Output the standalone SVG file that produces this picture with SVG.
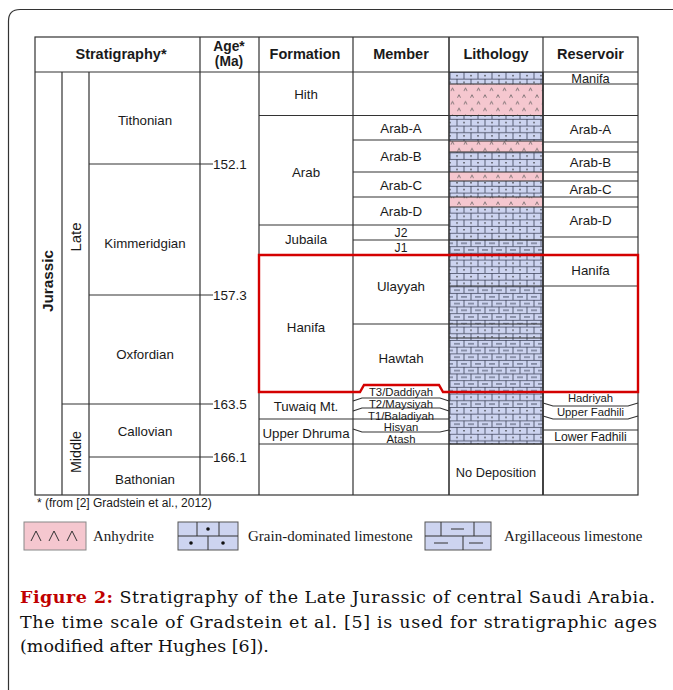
<svg xmlns="http://www.w3.org/2000/svg" width="673" height="690" viewBox="0 0 673 690">
<defs>
<style>
.ln{stroke:#333;stroke-width:1.2;fill:none}
.bl{stroke:#2a2a2a;stroke-width:1;fill:none}
.h{font-family:"Liberation Sans",Arial,sans-serif;font-weight:bold;font-size:14.5px;fill:#1a1a1a;text-anchor:middle}
.t{font-family:"Liberation Sans",Arial,sans-serif;font-size:13.3px;fill:#1a1a1a;text-anchor:middle}
.s{font-family:"Liberation Sans",Arial,sans-serif;font-size:12.2px;fill:#1a1a1a;text-anchor:middle}
.x{font-family:"Liberation Sans",Arial,sans-serif;font-size:11.3px;fill:#1a1a1a;text-anchor:middle}
.a{font-family:"Liberation Sans",Arial,sans-serif;font-size:13.5px;fill:#1a1a1a}
.lg{font-family:"Liberation Serif","Times New Roman",serif;font-size:15px;fill:#1a1a1a}
.cap{font-family:"DejaVu Serif","Liberation Serif",serif;font-size:17.5px;fill:#111}
</style>
<pattern id="pg" patternUnits="userSpaceOnUse" x="449" y="72" width="14" height="13.4">
<rect width="14" height="13.4" fill="#cdd4f0"/>
<path d="M0,0.4H14M0,7.1H14M1,0V6.7M8,6.7V13.4" stroke="#3a3f55" stroke-width="0.8" fill="none"/>
<circle cx="8" cy="3.7" r="0.75" fill="#222"/>
<circle cx="1" cy="10.4" r="0.75" fill="#222"/>
</pattern>
<pattern id="pr" patternUnits="userSpaceOnUse" x="449" y="72" width="14" height="13.4">
<rect width="14" height="13.4" fill="#cdd4f0"/>
<path d="M0,0.4H14M0,7.1H14M1,0V6.7M8,6.7V13.4" stroke="#3a3f55" stroke-width="0.8" fill="none"/>
<path d="M5,3.8H11M0,10.5H4M12,10.5H14" stroke="#3a3f55" stroke-width="0.9" fill="none"/>
</pattern>
<pattern id="pa" patternUnits="userSpaceOnUse" x="449" y="72" width="13" height="13.4">
<rect width="13" height="13.4" fill="#f5c7cf"/>
<path d="M2,5.6L3.5,2.6L5,5.6M8.5,12.3L10,9.3L11.5,12.3" stroke="#555" stroke-width="0.7" fill="none"/>
</pattern>
</defs>
<rect width="673" height="690" fill="#fff"/>
<path d="M8.5,690V21Q8.5,9.5 20,9.5H673" stroke="#333" stroke-width="1.2" fill="none"/>

<g id="lithology">
<rect x="449" y="72" width="94" height="12" fill="url(#pg)"/>
<rect x="449" y="84" width="94" height="31" fill="url(#pa)"/>
<rect x="449" y="115" width="94" height="26" fill="url(#pg)"/>
<rect x="449" y="141" width="94" height="11" fill="url(#pa)"/>
<rect x="449" y="152" width="94" height="20" fill="url(#pg)"/>
<rect x="449" y="172" width="94" height="9" fill="url(#pa)"/>
<rect x="449" y="181" width="94" height="16" fill="url(#pg)"/>
<rect x="449" y="197" width="94" height="10" fill="url(#pa)"/>
<rect x="449" y="207" width="94" height="33" fill="url(#pg)"/>
<rect x="449" y="240" width="94" height="15" fill="url(#pr)"/>
<rect x="449" y="255" width="94" height="31" fill="url(#pg)"/>
<rect x="449" y="286" width="94" height="38" fill="url(#pr)"/>
<rect x="449" y="324" width="94" height="14" fill="url(#pg)"/>
<rect x="449" y="338" width="94" height="54" fill="url(#pr)"/>
<rect x="449" y="392" width="94" height="8" fill="url(#pg)"/>
<rect x="449" y="400" width="94" height="7" fill="url(#pr)"/>
<rect x="449" y="407" width="94" height="13" fill="url(#pg)"/>
<rect x="449" y="420" width="94" height="7" fill="url(#pr)"/>
<rect x="449" y="427" width="94" height="17" fill="url(#pg)"/>
<path class="bl" d="M449,84H543M449,141H543M449,152H543M449,172H543M449,181H543M449,197H543M449,207H543M449,240H543M449,286H543M449,324H543M449,338H543M449,444H543"/>
<text class="s" x="496" y="476.5" style="font-size:12.8px">No Deposition</text>
</g>

<g id="grid">
<rect class="ln" x="35" y="37" width="603" height="458"/>
<path class="ln" d="M35,72H638"/>
<path class="ln" d="M62,72V495M89,72V495M200,37V495M259,37V495M353,37V495M543,37V495"/>
<path class="ln" d="M449,37V495" style="stroke-width:1.6"/>
<path class="ln" d="M543,72V495" style="stroke-width:1.6"/>
<path class="ln" d="M89,164H213M89,295H213M62,404H213M89,457H213"/>
<path class="ln" d="M259,115.5H638M259,225H449M259,419H449M259,444H638"/>
<path class="ln" d="M353,140H449M353,172H449M353,197H449M353,240H449M353,324H449"/>
<path class="ln" d="M353,401L362,398H440L449,401M353,411L362,408H440L449,411M353,429L362,432H440L449,430"/>
<path class="ln" d="M543,84H638M543,142H638M543,152H638M543,172H638M543,181H638M543,197H638M543,207H638M543,237H638M543,286H638"/>
<path class="ln" d="M543,403L553,406H628L638,403M543,416L553,419H628L638,416M543,430H638"/>
<path d="M259,255H638V392H443L439,385H364L360,392H259Z" fill="none" stroke="#d40000" stroke-width="2.4"/>
</g>

<g id="header">
<text class="h" x="121" y="59">Stratigraphy*</text>
<text class="h" x="229" y="50.5" style="font-size:13.8px">Age*</text>
<text class="h" x="229" y="65.5" style="font-size:13.8px">(Ma)</text>
<text class="h" x="305" y="59">Formation</text>
<text class="h" x="401" y="59">Member</text>
<text class="h" x="496" y="59">Lithology</text>
<text class="h" x="590.5" y="59">Reservoir</text>
</g>

<g id="stratigraphy">
<text class="h" transform="translate(47,281) rotate(-90)" y="5.5" style="font-size:15.3px">Jurassic</text>
<text class="t" transform="translate(75.5,237) rotate(-90)" y="5.5" style="font-size:15px">Late</text>
<text class="t" transform="translate(75.5,452) rotate(-90)" y="5.2" style="font-size:14.3px">Middle</text>
<text class="t" x="145" y="124.5">Tithonian</text>
<text class="t" x="145" y="247.5">Kimmeridgian</text>
<text class="t" x="145" y="358.5">Oxfordian</text>
<text class="t" x="145" y="435.5">Callovian</text>
<text class="t" x="145" y="483.5">Bathonian</text>
</g>

<g id="age">
<text class="a" x="213" y="169">152.1</text>
<text class="a" x="213" y="300">157.3</text>
<text class="a" x="213" y="409">163.5</text>
<text class="a" x="213" y="462">166.1</text>
</g>

<g id="formation">
<text class="t" x="306" y="99">Hith</text>
<text class="t" x="306" y="177">Arab</text>
<text class="t" x="306" y="244">Jubaila</text>
<text class="t" x="306" y="332">Hanifa</text>
<text class="t" x="306" y="411">Tuwaiq Mt.</text>
<text class="t" x="306" y="438">Upper Dhruma</text>
</g>

<g id="member">
<text class="t" x="401" y="133">Arab-A</text>
<text class="t" x="401" y="161">Arab-B</text>
<text class="t" x="401" y="189.5">Arab-C</text>
<text class="t" x="401" y="215.5">Arab-D</text>
<text class="s" x="401" y="237">J2</text>
<text class="s" x="401" y="252">J1</text>
<text class="t" x="401" y="291">Ulayyah</text>
<text class="t" x="401" y="362.5">Hawtah</text>
<text class="x" x="401" y="396">T3/Daddiyah</text>
<text class="x" x="401" y="408">T2/Maysiyah</text>
<text class="x" x="401" y="419.5">T1/Baladiyah</text>
<text class="x" x="401" y="430.5">Hisyan</text>
<text class="x" x="401" y="442.5">Atash</text>
</g>

<g id="reservoir">
<text class="s" x="590.5" y="82.5" style="font-size:12.8px">Manifa</text>
<text class="t" x="590.5" y="133.5">Arab-A</text>
<text class="t" x="590.5" y="167">Arab-B</text>
<text class="t" x="590.5" y="193.5">Arab-C</text>
<text class="t" x="590.5" y="224.5">Arab-D</text>
<text class="t" x="590.5" y="275">Hanifa</text>
<text class="x" x="590.5" y="401.5">Hadriyah</text>
<text class="x" x="590.5" y="415.5">Upper Fadhili</text>
<text class="s" x="590.5" y="441">Lower Fadhili</text>
</g>

<text class="s" x="37" y="507" style="text-anchor:start;font-size:12px">* (from [2] Gradstein et al., 2012)</text>

<g id="legend">
<g id="legend-anhydrite">
<rect x="24" y="522" width="62" height="28" fill="#f5c7cf" stroke="#888" stroke-width="1"/>
<path d="M31,541L36,531L41,541M49,541L54,531L59,541M67,541L72,531L77,541" stroke="#333" stroke-width="1" fill="none"/>
<text class="lg" x="93" y="541">Anhydrite</text>
</g>
<g id="legend-grain">
<rect x="178" y="522" width="60" height="28" fill="#cdd4f0" stroke="#555" stroke-width="1"/>
<path d="M178,536H238M197,522V536M219,522V536M208,536V550" stroke="#333" stroke-width="1" fill="none"/>
<circle cx="208" cy="529" r="1.8" fill="#111"/>
<circle cx="191" cy="543" r="1.8" fill="#111"/>
<circle cx="223" cy="543" r="1.8" fill="#111"/>
<text class="lg" x="248" y="541">Grain-dominated limestone</text>
</g>
<g id="legend-argillaceous">
<rect x="425" y="522" width="66" height="28" fill="#cdd4f0" stroke="#555" stroke-width="1"/>
<path d="M425,536H491M441,522V536M474,522V536M463,536V550" stroke="#333" stroke-width="1" fill="none"/>
<path d="M451,529H464M434,543H448M469,543H483" stroke="#333" stroke-width="1" fill="none"/>
<text class="lg" x="504" y="541">Argillaceous limestone</text>
</g>
</g>

<g id="caption">
<text class="cap" x="20" y="603" textLength="635" lengthAdjust="spacing"><tspan font-weight="bold" fill="#c00000">Figure 2:</tspan> Stratigraphy of the Late Jurassic of central Saudi Arabia.</text>
<text class="cap" x="20" y="628" textLength="637" lengthAdjust="spacing">The time scale of Gradstein et al. [5] is used for stratigraphic ages</text>
<text class="cap" x="20" y="652">(modified after Hughes [6]).</text>
</g>
</svg>
